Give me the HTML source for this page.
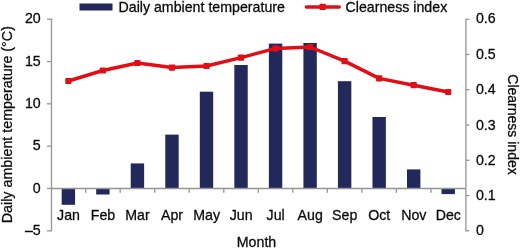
<!DOCTYPE html>
<html><head><meta charset="utf-8"><title>chart</title>
<style>html,body{margin:0;padding:0;background:#fff}svg{display:block}text{font-family:"Liberation Sans",sans-serif;font-size:14.2px;fill:#0a0a0a;stroke:#0a0a0a;stroke-width:0.28px;stroke-linejoin:round}</style></head><body>
<svg width="520" height="250" viewBox="0 0 520 250">
<rect width="520" height="250" fill="#fff"/>
<rect x="61.67" y="188.48" width="13.40" height="16.32" fill="#23285a"/>
<rect x="96.20" y="188.48" width="13.40" height="6.02" fill="#23285a"/>
<rect x="130.73" y="163.40" width="13.40" height="25.08" fill="#23285a"/>
<rect x="165.27" y="134.60" width="13.40" height="53.88" fill="#23285a"/>
<rect x="199.80" y="91.70" width="13.40" height="96.78" fill="#23285a"/>
<rect x="234.33" y="65.00" width="13.40" height="123.48" fill="#23285a"/>
<rect x="268.87" y="43.60" width="13.40" height="144.88" fill="#23285a"/>
<rect x="303.40" y="43.00" width="13.40" height="145.48" fill="#23285a"/>
<rect x="337.93" y="81.20" width="13.40" height="107.28" fill="#23285a"/>
<rect x="372.47" y="117.00" width="13.40" height="71.48" fill="#23285a"/>
<rect x="407.00" y="169.40" width="13.40" height="19.08" fill="#23285a"/>
<rect x="441.53" y="188.48" width="13.40" height="5.62" fill="#23285a"/>
<g stroke="#949494" stroke-width="1.3" fill="none">
<path d="M51.5 18.7V231.3"/>
<path d="M465.9 18.7V231.3"/>
<path d="M51.5 188.5H465.9"/>
<path d="M47.0 230.80H51.5"/>
<path d="M47.0 188.48H51.5"/>
<path d="M47.0 146.16H51.5"/>
<path d="M47.0 103.84H51.5"/>
<path d="M47.0 61.52H51.5"/>
<path d="M47.0 19.20H51.5"/>
<path d="M465.9 230.80H469.4"/>
<path d="M465.9 195.53H469.4"/>
<path d="M465.9 160.27H469.4"/>
<path d="M465.9 125.00H469.4"/>
<path d="M465.9 89.73H469.4"/>
<path d="M465.9 54.47H469.4"/>
<path d="M465.9 19.20H469.4"/>
<path d="M85.63 188.5V192.8"/>
<path d="M120.17 188.5V192.8"/>
<path d="M154.70 188.5V192.8"/>
<path d="M189.23 188.5V192.8"/>
<path d="M223.77 188.5V192.8"/>
<path d="M258.30 188.5V192.8"/>
<path d="M292.83 188.5V192.8"/>
<path d="M327.37 188.5V192.8"/>
<path d="M361.90 188.5V192.8"/>
<path d="M396.43 188.5V192.8"/>
<path d="M430.97 188.5V192.8"/>
</g>
<polyline points="68.37,81.00 102.90,70.50 137.43,63.00 171.97,67.60 206.50,66.00 241.03,57.60 275.57,48.40 310.10,47.00 344.63,61.10 379.17,78.40 413.70,85.20 448.23,92.00" fill="none" stroke="#e20e16" stroke-width="3.5" stroke-linejoin="round" stroke-linecap="round"/>
<rect x="65.27" y="77.90" width="6.2" height="6.2" rx="0.8" fill="#e20e16"/>
<rect x="99.80" y="67.40" width="6.2" height="6.2" rx="0.8" fill="#e20e16"/>
<rect x="134.33" y="59.90" width="6.2" height="6.2" rx="0.8" fill="#e20e16"/>
<rect x="168.87" y="64.50" width="6.2" height="6.2" rx="0.8" fill="#e20e16"/>
<rect x="203.40" y="62.90" width="6.2" height="6.2" rx="0.8" fill="#e20e16"/>
<rect x="237.93" y="54.50" width="6.2" height="6.2" rx="0.8" fill="#e20e16"/>
<rect x="272.47" y="45.30" width="6.2" height="6.2" rx="0.8" fill="#e20e16"/>
<rect x="307.00" y="43.90" width="6.2" height="6.2" rx="0.8" fill="#e20e16"/>
<rect x="341.53" y="58.00" width="6.2" height="6.2" rx="0.8" fill="#e20e16"/>
<rect x="376.07" y="75.30" width="6.2" height="6.2" rx="0.8" fill="#e20e16"/>
<rect x="410.60" y="82.10" width="6.2" height="6.2" rx="0.8" fill="#e20e16"/>
<rect x="445.13" y="88.90" width="6.2" height="6.2" rx="0.8" fill="#e20e16"/>
<text x="40.7" y="235.10" text-anchor="end">–5</text>
<text x="40.7" y="192.78" text-anchor="end">0</text>
<text x="40.7" y="150.46" text-anchor="end">5</text>
<text x="40.7" y="108.14" text-anchor="end">10</text>
<text x="40.7" y="65.82" text-anchor="end">15</text>
<text x="40.7" y="22.80" text-anchor="end">20</text>
<text x="475.9" y="235.40">0</text>
<text x="475.9" y="200.13">0.1</text>
<text x="475.9" y="164.87">0.2</text>
<text x="475.9" y="129.60">0.3</text>
<text x="475.9" y="94.33">0.4</text>
<text x="475.9" y="59.07">0.5</text>
<text x="475.9" y="23.30">0.6</text>
<text x="68.47" y="219.8" text-anchor="middle">Jan</text>
<text x="103.00" y="219.8" text-anchor="middle">Feb</text>
<text x="137.53" y="219.8" text-anchor="middle">Mar</text>
<text x="172.07" y="219.8" text-anchor="middle">Apr</text>
<text x="206.60" y="219.8" text-anchor="middle">May</text>
<text x="241.13" y="219.8" text-anchor="middle">Jun</text>
<text x="275.67" y="219.8" text-anchor="middle">Jul</text>
<text x="310.20" y="219.8" text-anchor="middle">Aug</text>
<text x="344.73" y="219.8" text-anchor="middle">Sep</text>
<text x="379.27" y="219.8" text-anchor="middle">Oct</text>
<text x="413.80" y="219.8" text-anchor="middle">Nov</text>
<text x="448.33" y="219.8" text-anchor="middle">Dec</text>
<text x="256.5" y="246.8" text-anchor="middle">Month</text>
<rect x="79.5" y="3.5" width="33" height="7" fill="#23285a"/>
<text x="118.5" y="11.7">Daily ambient temperature</text>
<path d="M306.4 6.9H339.2" stroke="#e20e16" stroke-width="3.5" stroke-linecap="round" fill="none"/>
<rect x="319.6" y="3.8" width="6.2" height="6.2" rx="0.8" fill="#e20e16"/>
<text x="345.5" y="11.7">Clearness index</text>
<text transform="translate(12.2,124.7) rotate(-90)" text-anchor="middle" style="font-size:14.3px">Daily ambient temperature (°C)</text>
<text transform="translate(507.6,124.5) rotate(90)" text-anchor="middle" style="font-size:14px">Clearness index</text>
</svg></body></html>
